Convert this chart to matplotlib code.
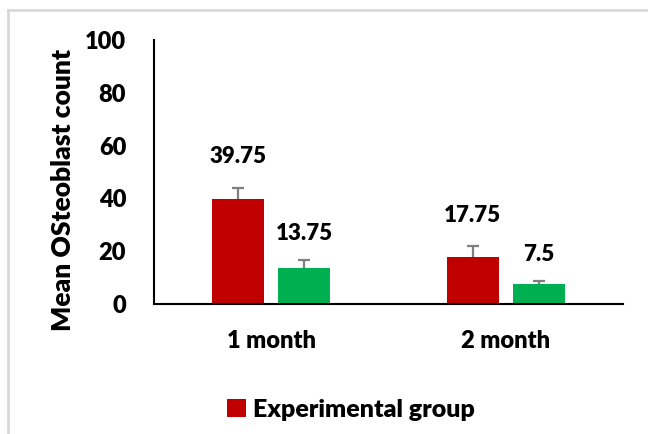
import numpy as np
import matplotlib.pyplot as plt
from matplotlib.lines import Line2D

# data
periods = ["1 month", "2 month"]
experimental = [39.75, 17.75]
experimental_err = [4.2, 4.1]
control = [13.75, 7.5]
control_err = [3.0, 1.4]
value_labels_exp = ["39.75", "17.75"]
value_labels_ctl = ["13.75", "7.5"]

plt.rcParams["font.family"] = ["Lato", "DejaVu Sans"]
WEIGHT = "heavy"

W, H = 648, 434
fig = plt.figure(figsize=(W / 100, H / 100), dpi=100)
ax = fig.add_axes([154 / W, 1 - 304 / H, (623 - 154) / W, (304 - 40) / H])

x = np.arange(len(periods))
width = 0.222
offset = 0.141
cap = 0.026

ax.bar(x - offset, experimental, width, color="#C00000", label="Experimental group")
ax.bar(x + offset, control, width, color="#00B050")

# error bars: plus side only, with a single cap on top
for xs, vals, errs in [(x - offset, experimental, experimental_err),
                       (x + offset, control, control_err)]:
    for xi, v, e in zip(xs, vals, errs):
        ax.vlines(xi, v, v + e, color="#7F7F7F", lw=1.6)
        ax.hlines(v + e, xi - cap, xi + cap, color="#7F7F7F", lw=1.6)

for xi, v, e, s in zip(x - offset, experimental, experimental_err, value_labels_exp):
    ax.annotate(s, (xi, v + e), xytext=(0, 31), textcoords="offset pixels",
                ha="center", va="center", fontsize=16, fontweight=WEIGHT)
for xi, v, e, s in zip(x + offset, control, control_err, value_labels_ctl):
    ax.annotate(s, (xi, v + e), xytext=(0, 26), textcoords="offset pixels",
                ha="center", va="center", fontsize=16, fontweight=WEIGHT)

ax.set_xlim(-0.5, 1.5)
ax.set_ylim(0, 100)
ax.set_yticks([0, 20, 40, 60, 80, 100])
ax.set_xticks(x)
ax.set_xticklabels(periods)
ax.tick_params(axis="both", length=0, labelsize=17)
ax.tick_params(axis="y", pad=20)
ax.tick_params(axis="x", pad=19)
for lbl in ax.get_xticklabels() + ax.get_yticklabels():
    lbl.set_fontweight(WEIGHT)
ax.spines["top"].set_visible(False)
ax.spines["right"].set_visible(False)
ax.spines["left"].set_linewidth(1.5)
ax.spines["bottom"].set_linewidth(1.5)
ax.set_ylabel("Mean OSteoblast count", fontsize=19, fontweight=WEIGHT)
ax.yaxis.set_label_coords(-0.168, 0.43)

fig.legend(handles=ax.get_legend_handles_labels()[0][:1], labels=["Experimental group"],
           loc="center", bbox_to_anchor=(351 / W, 1 - 410 / H), frameon=False,
           handlelength=0.75, handleheight=0.75, handletextpad=0.3,
           prop={"weight": WEIGHT, "size": 18})

# chart frame (only top and left edges fall inside the picture)
fig.add_artist(Line2D([7.5 / W, 1], [1 - 10 / H, 1 - 10 / H], color="#D9D9D9", lw=2))
fig.add_artist(Line2D([7.5 / W, 7.5 / W], [0, 1 - 10 / H], color="#D9D9D9", lw=2))

fig.savefig("out.png", dpi=100)
